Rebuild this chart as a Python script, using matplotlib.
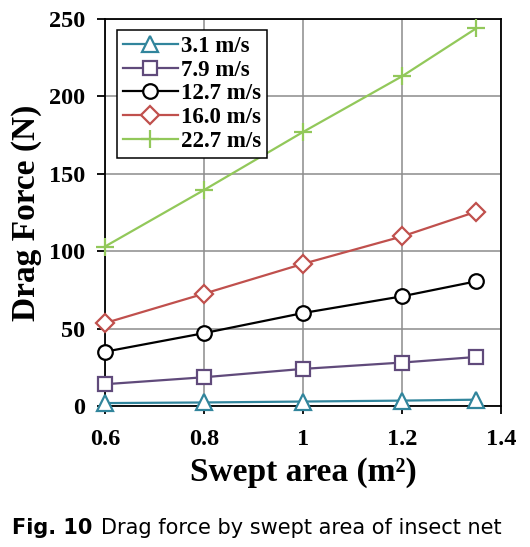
import matplotlib.pyplot as plt
from matplotlib.ticker import MultipleLocator, FuncFormatter

# swept area of the insect net (m^2)
swept_area = [0.6, 0.8, 1.0, 1.2, 1.35]

# drag force (N) at each wind speed
speed_labels = ["3.1 m/s", "7.9 m/s", "12.7 m/s", "16.0 m/s", "22.7 m/s"]
force_3_1 = [1.8, 2.2, 2.8, 3.4, 4.0]
force_7_9 = [14.0, 18.5, 23.9, 28.0, 31.6]
force_12_7 = [35.0, 47.0, 60.0, 70.8, 80.5]
force_16_0 = [53.5, 72.5, 91.8, 109.5, 125.5]
force_22_7 = [103.0, 139.5, 177.0, 213.0, 244.0]

series = [force_3_1, force_7_9, force_12_7, force_16_0, force_22_7]
colors = ["#31859C", "#604A7B", "#000000", "#C0504D", "#92C85A"]
markers = ["^", "s", "o", "D", "+"]
msizes = [12, 10.5, 10.5, 9, 13]

serif = ["Liberation Serif", "DejaVu Serif"]

fig = plt.figure(figsize=(5.30, 5.47), dpi=100)
ax = fig.add_axes([0.198, 0.258, 0.747, 0.707])

for vals, lab, c, m, ms in zip(series, speed_labels, colors, markers, msizes):
    ax.plot(swept_area, vals, color=c, lw=1.6, marker=m, ms=ms,
            mfc="white" if m != "+" else c, mec=c, mew=1.6, label=lab,
            zorder=3, clip_on=False)

ax.set_xlim(0.6, 1.4)
ax.set_ylim(0, 250)
ax.xaxis.set_major_locator(MultipleLocator(0.2))
ax.yaxis.set_major_locator(MultipleLocator(50))
ax.xaxis.set_major_formatter(FuncFormatter(lambda v, p: f"{v:g}"))
ax.grid(True, color="#8c8c8c", lw=1.1)
ax.set_axisbelow(True)
for s in ax.spines.values():
    s.set_linewidth(1.3)
    s.set_color("black")
ax.tick_params(direction="out", length=6, width=1.3, pad=8)
ax.tick_params(axis="x", pad=11)
for t in ax.get_xticklabels() + ax.get_yticklabels():
    t.set_fontfamily(serif)
    t.set_fontweight("bold")
    t.set_fontsize(17.5)

ax.set_xlabel("Swept area (m²)", family=serif, weight="bold",
              fontsize=24, labelpad=5)
ax.set_ylabel("Drag Force (N)", family=serif, weight="bold", fontsize=24,
              labelpad=5)

leg = ax.legend(loc="upper left", bbox_to_anchor=(0.03, 0.972),
                prop={"family": serif, "weight": "bold", "size": 16.5},
                frameon=True, fancybox=False, edgecolor="black",
                framealpha=1, handlelength=2.4, handletextpad=0.15,
                labelspacing=0.12, borderpad=0.25, borderaxespad=0)
leg.get_frame().set_linewidth(1.1)

fig.canvas.draw()
fig_lbl = fig.text(0.022, 0.023, "Fig. 10", family="DejaVu Sans",
                   weight="bold", fontsize=15)
bb = fig_lbl.get_window_extent(fig.canvas.get_renderer())
x_next = (bb.x1 + 9) / fig.bbox.width
fig.text(x_next, 0.023, "Drag force by swept area of insect net",
         family="DejaVu Sans", fontsize=15)

fig.savefig("out.png", dpi=100)
